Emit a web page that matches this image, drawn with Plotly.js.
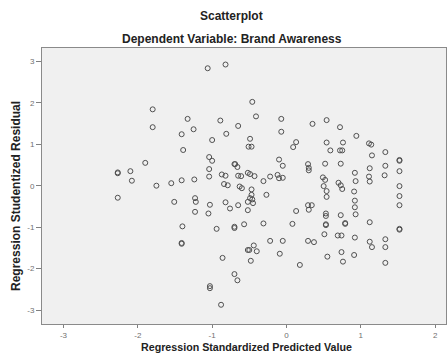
<!DOCTYPE html>
<html>
<head>
<meta charset="utf-8">
<script src="https://cdn.plot.ly/plotly-3.0.1.min.js"></script>
<style>html,body{margin:0;padding:0;background:#fff;}#chart{width:447px;height:358px;}</style>
</head>
<body>
<div id="chart"></div>
<script>
// Regression Standardized Predicted Value
const predicted = [
 -2.27,-2.27,-2.10,-2.08,-2.27,-1.90,-1.80,-1.80,-1.75,-1.55,-1.51,-1.41,-1.39,-1.41,-1.40,-1.41,-1.41,
 -1.33,-1.25,-1.24,-1.23,-1.22,-1.23,-1.06,-1.00,-1.04,-1.00,-1.04,-1.04,-1.03,-1.05,-0.94,-1.03,-1.03,
 -0.88,-0.86,-0.89,-0.87,-0.82,-0.84,-0.79,-0.82,-0.76,-0.82,-0.81,-0.70,-0.69,-0.66,-0.65,-0.65,-0.61,
 -0.63,-0.60,-0.65,-0.70,-0.70,-0.57,-0.70,-0.66,-0.52,-0.49,-0.43,-0.51,-0.47,-0.49,-0.46,-0.41,-0.47,
 -0.47,-0.49,-0.46,-0.52,-0.45,-0.52,-0.44,-0.52,-0.50,-0.40,-0.48,-0.31,-0.27,-0.31,-0.22,-0.22,-0.12,
 -0.10,-0.05,-0.10,-0.05,-0.07,-0.07,-0.05,-0.09,0.13,0.09,0.13,0.08,0.18,0.29,0.30,0.30,0.29,0.30,0.34,
 0.29,0.37,0.35,0.54,0.72,0.94,0.54,0.76,0.59,0.72,0.75,1.11,1.14,1.15,1.33,1.52,1.52,0.52,0.73,0.92,
 1.12,1.33,1.52,1.11,1.12,1.32,0.49,0.52,0.50,0.54,0.54,0.70,0.73,0.75,0.93,0.91,0.92,0.92,0.93,1.52,
 1.52,1.52,0.53,0.53,0.73,1.12,0.53,0.79,0.51,0.69,0.74,0.92,1.52,1.52,1.12,1.15,1.33,1.33,0.74,0.55,
 0.76,0.91,1.33,0.79,0.53
];
// Regression Studentized Residual
const residual = [
 0.32,0.30,0.35,0.12,-0.29,0.55,1.84,1.41,0.00,0.06,-0.39,1.24,0.86,0.13,-0.98,-1.40,-1.38,
 1.61,1.36,0.15,-0.30,-0.39,-0.63,2.83,1.10,0.69,0.60,0.40,0.22,-0.46,-0.67,-1.04,-2.42,-2.47,
 -2.87,-1.74,1.57,0.27,0.24,0.04,0.01,-0.40,-0.55,2.92,1.25,0.52,0.52,0.45,1.44,0.24,0.23,
 -0.02,-0.06,-0.47,-0.99,-1.02,-0.93,-2.13,-2.28,0.31,0.28,0.23,0.94,0.94,1.13,2.02,1.67,-0.09,
 -0.22,-0.30,-0.33,-0.39,-0.42,-0.59,-1.44,-1.55,-1.55,-1.58,-1.81,0.11,-0.22,-0.91,0.22,-1.33,0.26,
 0.18,0.19,0.63,0.48,1.61,1.30,-1.33,-1.64,1.05,0.93,-0.61,-0.92,-1.91,0.52,0.43,0.37,-0.47,-0.58,-0.47,
 -1.33,-1.36,1.49,1.58,1.41,1.20,1.04,1.04,0.85,0.85,0.85,1.02,0.99,0.73,0.81,0.62,0.60,0.53,0.53,0.31,
 0.42,0.48,0.35,0.22,0.10,0.25,0.20,0.14,-0.01,-0.13,-0.27,0.07,0.01,-0.08,0.11,-0.14,-0.36,-0.52,-0.69,-0.01,
 -0.25,-0.47,-0.67,-0.73,-0.71,-0.88,-0.95,-0.92,-1.17,-1.20,-1.20,-1.25,-1.06,-1.04,-1.35,-1.48,-1.29,-1.48,-1.60,-1.71,
 -1.83,-1.67,-1.86,-0.90,-0.93
];
const xTickVals = [-3,-2,-1,0,1,2];
const xTickText = ['-3','-2','-1','0','1','2'];
const yTickVals = [-3,-2,-1,0,1,2,3];
const yTickText = ['-3','-2','-1','0','1','2','3'];

const FONT = 'Liberation Sans, Arial, sans-serif';
const trace = {
  type: 'scatter', mode: 'markers', x: predicted, y: residual,
  marker: {symbol: 'circle-open', size: 5, color: '#505050', line: {width: 1, color: '#505050'}},
  hoverinfo: 'none'
};
const axisCommon = {
  showgrid: false, zeroline: false, showline: true, linecolor: '#8a8a8a', linewidth: 1, mirror: true,
  ticks: 'outside', ticklen: 5, tickcolor: '#808080', tickwidth: 1,
  tickfont: {family: FONT, size: 8, color: '#707070'}, tickmode: 'array'
};
const layout = {
  width: 447, height: 358,
  margin: {l: 42, r: 1, t: 48, b: 34, pad: 0},
  paper_bgcolor: '#ffffff', plot_bgcolor: '#f0f0f0',
  showlegend: false,
  xaxis: Object.assign({}, axisCommon, {ticklen: 3, range: [-3.289, 2.146], tickvals: xTickVals, ticktext: xTickText}),
  yaxis: Object.assign({}, axisCommon, {range: [-3.333, 3.318], tickvals: yTickVals, ticktext: yTickText}),
  annotations: [
    {text: '<b>Scatterplot</b>', xref: 'paper', yref: 'paper', x: 0.470, y: 1.116, xanchor: 'center', yanchor: 'middle', showarrow: false, font: {family: FONT, size: 12, color: '#222'}},
    {text: '<b>Dependent Variable: Brand Awareness</b>', xref: 'paper', yref: 'paper', x: 0.470, y: 1.0326, xanchor: 'center', yanchor: 'middle', showarrow: false, font: {family: FONT, size: 12, color: '#222'}},
    {text: '<b>Regression Standardized Predicted Value</b>', xref: 'paper', yref: 'paper', x: 0.507, y: -0.0833, xanchor: 'center', yanchor: 'middle', showarrow: false, font: {family: FONT, size: 10.7, color: '#222'}},
    {text: '<b>Regression Studentized Residual</b>', xref: 'paper', yref: 'paper', x: -0.0644, y: 0.4638, xanchor: 'center', yanchor: 'middle', textangle: -90, showarrow: false, font: {family: FONT, size: 12, color: '#222'}}
  ]
};
Plotly.newPlot('chart', [trace], layout, {staticPlot: true, displayModeBar: false});
</script>
</body>
</html>
